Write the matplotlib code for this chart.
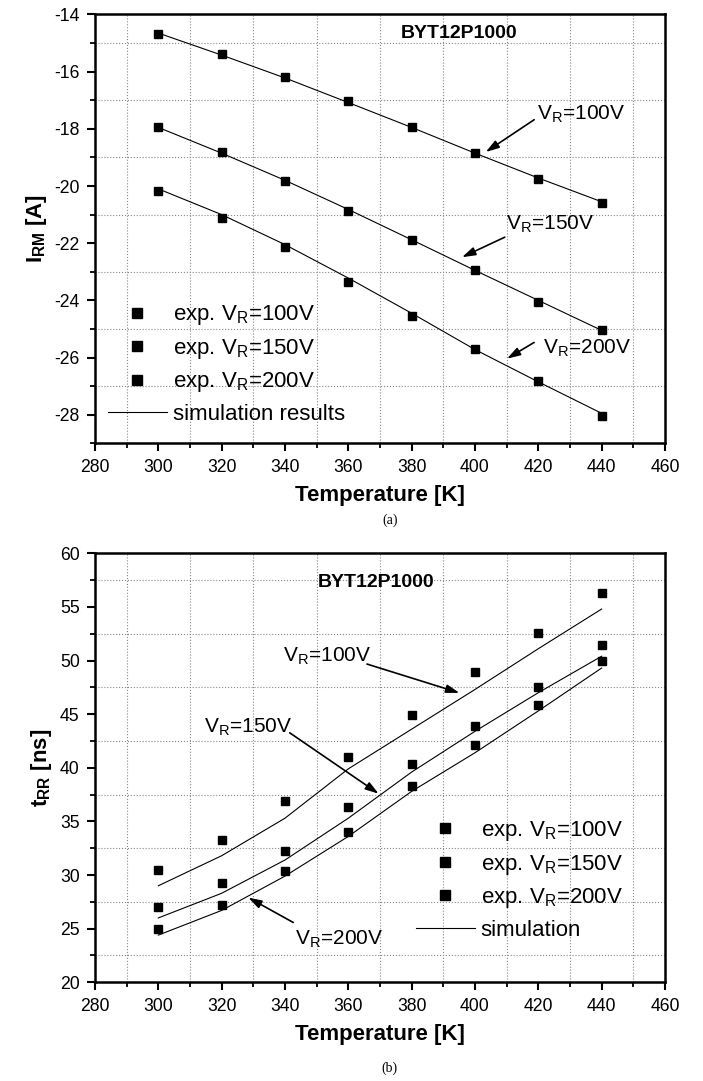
import matplotlib
matplotlib.use("Agg")
import matplotlib.pyplot as plt
from matplotlib.lines import Line2D
from matplotlib.ticker import MultipleLocator

plt.rcParams['font.family'] = ['Liberation Sans', 'DejaVu Sans']
plt.rcParams['mathtext.fontset'] = 'custom'
plt.rcParams['mathtext.rm'] = 'Liberation Sans'
plt.rcParams['mathtext.it'] = 'Liberation Sans:italic'
plt.rcParams['mathtext.bf'] = 'Liberation Sans:bold'
plt.rcParams['axes.unicode_minus'] = False

# data
temps = [300, 320, 340, 360, 380, 400, 420, 440]

irm_exp_100 = [-14.68, -15.38, -16.20, -17.04, -17.92, -18.83, -19.75, -20.58]
irm_exp_150 = [-17.95, -18.82, -19.81, -20.88, -21.89, -22.95, -24.04, -25.05]
irm_exp_200 = [-20.18, -21.11, -22.14, -23.36, -24.55, -25.70, -26.83, -28.06]
irm_sim_100 = [-14.65, -15.42, -16.22, -17.08, -17.95, -18.85, -19.72, -20.55]
irm_sim_150 = [-17.95, -18.85, -19.80, -20.82, -21.88, -22.95, -24.00, -25.05]
irm_sim_200 = [-20.10, -21.00, -22.05, -23.22, -24.45, -25.72, -26.85, -27.95]

trr_exp_100 = [30.45, 33.27, 36.87, 40.96, 44.96, 48.93, 52.53, 56.34]
trr_exp_150 = [27.00, 29.27, 32.28, 36.34, 40.35, 43.94, 47.57, 51.44]
trr_exp_200 = [24.96, 27.19, 30.36, 34.05, 38.33, 42.11, 45.86, 49.92]
trr_sim_100 = [29.0, 31.8, 35.3, 39.9, 43.6, 47.3, 51.1, 54.8]
trr_sim_150 = [26.0, 28.3, 31.4, 35.3, 39.6, 43.4, 47.0, 50.4]
trr_sim_200 = [24.4, 26.7, 29.9, 33.6, 37.8, 41.4, 45.3, 49.3]

fig = plt.figure(figsize=(7.03, 10.81), dpi=100)
ax1 = fig.add_axes([0.1351, 0.5899, 0.8108, 0.3967])
ax2 = fig.add_axes([0.1351, 0.0913, 0.8108, 0.3969])


def style_axes(ax, ymaj, ymin):
    ax.set_xlim(280, 460)
    ax.xaxis.set_major_locator(MultipleLocator(20))
    ax.xaxis.set_minor_locator(MultipleLocator(10))
    ax.yaxis.set_major_locator(MultipleLocator(ymaj))
    ax.yaxis.set_minor_locator(MultipleLocator(ymin))
    ax.tick_params(which='major', direction='out', length=6, width=1.5, pad=5,
                   top=False, right=False, labelsize=12.7)
    ax.tick_params(which='minor', direction='out', length=3.6, width=1.3,
                   top=False, right=False)
    ax.grid(which='minor', linestyle=':', color='#888888', linewidth=0.8)
    ax.grid(which='major', visible=False)
    for s in ax.spines.values():
        s.set_linewidth(1.8)
    ax.set_xlabel('Temperature [K]', fontsize=16, fontweight='bold', labelpad=7)


def draw_series(ax, exps, sims):
    for ys in exps:
        ax.plot(temps, ys, 's', color='black', markersize=5.8, zorder=3)
    for ys in sims:
        ax.plot(temps, ys, '-', color='black', linewidth=0.8, zorder=2)


def arrow(ax, text, tx, ty, x0, y0, x1, y1):
    ax.text(tx, ty, text, fontsize=15, ha='left', va='baseline')
    ax.annotate('', xy=(x1, y1), xytext=(x0, y0),
                arrowprops=dict(arrowstyle='-|>,head_length=0.8,head_width=0.25',
                                color='black', lw=1.2, mutation_scale=10,
                                shrinkA=0, shrinkB=0))


def make_legend(ax, last_label, anchor):
    handles = [Line2D([], [], marker='s', linestyle='none', color='black', markersize=7)
               for _ in range(3)]
    handles.append(Line2D([], [], color='black', linewidth=0.8))
    labels = ['exp. V$_\\mathrm{R}$=100V', 'exp. V$_\\mathrm{R}$=150V',
              'exp. V$_\\mathrm{R}$=200V', last_label]
    ax.legend(handles, labels, loc='lower left', bbox_to_anchor=anchor,
              frameon=False, fontsize=16, handlelength=2.65, handletextpad=0.27,
              labelspacing=0.43, borderaxespad=0)


# (a) I_RM
style_axes(ax1, 2, 1)
ax1.set_ylim(-29, -14)
draw_series(ax1, [irm_exp_100, irm_exp_150, irm_exp_200],
            [irm_sim_100, irm_sim_150, irm_sim_200])
ax1.set_ylabel('I$_\\mathbf{RM}$ [A]', fontsize=16, fontweight='bold', labelpad=4)
ax1.text(395, -14.67, 'BYT12P1000', fontsize=14, fontweight='bold', ha='center', va='center')
arrow(ax1, 'V$_\\mathrm{R}$=100V', 419.5, -17.68, 418.7, -17.68, 403.4, -18.81)
arrow(ax1, 'V$_\\mathrm{R}$=150V', 409.8, -21.54, 409.4, -21.79, 395.9, -22.49)
arrow(ax1, 'V$_\\mathrm{R}$=200V', 421.4, -25.87, 418.7, -25.47, 410.1, -26.04)
make_legend(ax1, 'simulation results', (0.007, 0.022))

# (b) t_RR
style_axes(ax2, 5, 2.5)
ax2.set_ylim(20, 60)
draw_series(ax2, [trr_exp_100, trr_exp_150, trr_exp_200],
            [trr_sim_100, trr_sim_150, trr_sim_200])
ax2.set_ylabel('t$_\\mathbf{RR}$ [ns]', fontsize=16, fontweight='bold', labelpad=4)
ax2.text(368.9, 57.3, 'BYT12P1000', fontsize=14, fontweight='bold', ha='center', va='center')
arrow(ax2, 'V$_\\mathrm{R}$=100V', 339.5, 49.89, 365.9, 49.67, 395.1, 46.98)
arrow(ax2, 'V$_\\mathrm{R}$=150V', 314.5, 43.23, 341.5, 43.26, 369.6, 37.58)
arrow(ax2, 'V$_\\mathrm{R}$=200V', 343.3, 23.53, 342.6, 25.58, 328.4, 27.90)
make_legend(ax2, 'simulation', (0.547, 0.076))

fig.text(0.5545, 0.519, '(a)', fontsize=10, family='Liberation Serif', ha='center', va='center')
fig.text(0.5545, 0.012, '(b)', fontsize=10, family='Liberation Serif', ha='center', va='center')

fig.savefig('out.png', dpi=100)
